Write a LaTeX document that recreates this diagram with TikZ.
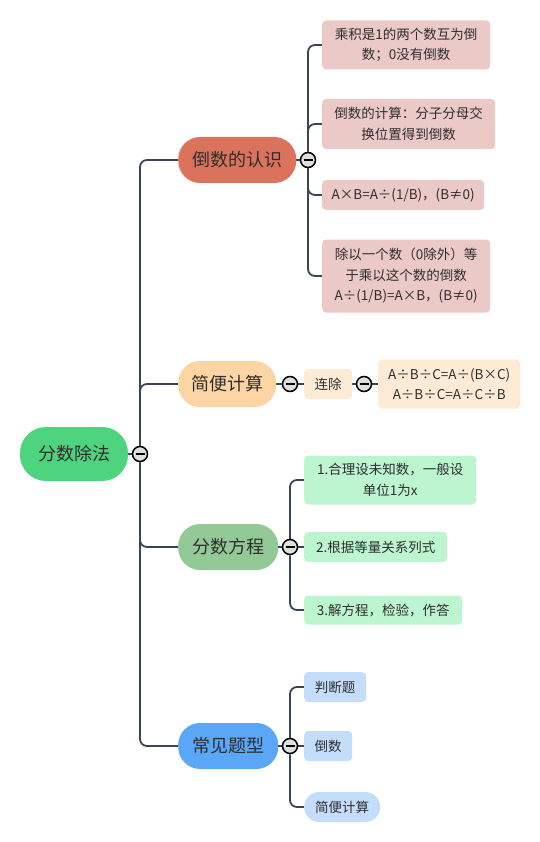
\documentclass[tikz,border=0pt]{standalone}
\usepackage{fontspec}
\setmainfont{Noto Sans CJK SC}
\usetikzlibrary{positioning,backgrounds,calc}
\definecolor{linec}{HTML}{3A4556}
\definecolor{txt}{HTML}{2E2E2E}
\definecolor{rootc}{HTML}{4ED47E}
\definecolor{redc}{HTML}{DB735C}
\definecolor{redl}{HTML}{EBC9C6}
\definecolor{orac}{HTML}{FDD4A3}
\definecolor{oral}{HTML}{FDEBD6}
\definecolor{grnc}{HTML}{93C997}
\definecolor{grnl}{HTML}{BDF5D1}
\definecolor{bluc}{HTML}{5BA7F7}
\definecolor{blul}{HTML}{C3DDFB}
\tikzset{
	root/.style={rectangle,rounded corners=26pt,minimum height=54pt,minimum width=108pt,inner sep=0pt,fill=rootc,text=txt,font=\fontsize{18}{22}\selectfont},
	topic/.style={rectangle,rounded corners=22pt,minimum height=46pt,inner sep=0pt,anchor=west,text=txt,font=\fontsize{18}{22}\selectfont},
	leaf/.style={rectangle,rounded corners=4pt,inner sep=0pt,anchor=west,align=center,text=txt,font=\fontsize{13.5}{20.5}\selectfont},
	fold/.style={circle,draw=black,line width=1.5pt,fill=gray!25,minimum size=15pt,inner sep=0pt,
		path picture={\draw[line width=1.5pt] ([xshift=-4.5pt]path picture bounding box.center) -- ([xshift=4.5pt]path picture bounding box.center);}},
	link/.style={draw=linec,line width=1.8pt,rounded corners=7pt}
}
\begin{document}
\begin{tikzpicture}[x=1pt,y=-1pt]
	\useasboundingbox (0,0) rectangle (539,842);
	% Columns
	\def\bx{178} % topics
	\def\ax{322} % leaves of first topic
	\def\cx{304} % leaves of the other topics
	
	\node[root] (R) at (74,454) {分数除法};
	\node[fold] (R0) at (140,454) {};
	
	% first topic
	\node[topic,fill=redc,minimum width=118pt] (B1) at (\bx,160) {倒数的认识};
	\node[fold] (F1) at (308,160) {};
	\node[leaf,fill=redl,minimum width=168pt,minimum height=49pt] (A1) at (\ax,45) {乘积是1的两个数互为倒\\数；0没有倒数};
	\node[leaf,fill=redl,minimum width=173pt,minimum height=50pt] (A2) at (\ax,124) {倒数的计算：分子分母交\\换位置得到倒数};
	\node[leaf,fill=redl,minimum width=162pt,minimum height=30pt] (A3) at (\ax,195) {A×B=A÷(1/B)，(B≠0)};
	\node[leaf,fill=redl,minimum width=168pt,minimum height=73pt] (A4) at (\ax,276) {除以一个数（0除外）等\\于乘以这个数的倒数\\A÷(1/B)=A×B，(B≠0)};
	
	% second topic
	\node[topic,fill=orac,minimum width=98pt] (B2) at (\bx,384) {简便计算};
	\node[fold] (F2) at (290,384) {};
	\node[leaf,fill=oral,minimum width=48pt,minimum height=30pt] (E1) at (\cx,384) {连除};
	\node[fold] (F5) at (364,384) {};
	\node[leaf,fill=oral,minimum width=142pt,minimum height=49pt] (E2) at (378,384) {A÷B÷C=A÷(B×C)\\A÷B÷C=A÷C÷B};
	
	% third topic
	\node[topic,fill=grnc,minimum width=100pt] (B3) at (\bx,547) {分数方程};
	\node[fold] (F3) at (290,547) {};
	\node[leaf,fill=grnl,minimum width=172pt,minimum height=49pt] (C1) at (\cx,480) {1.合理设未知数，一般设\\单位1为x};
	\node[leaf,fill=grnl,minimum width=143pt,minimum height=30pt] (C2) at (\cx,547) {2.根据等量关系列式};
	\node[leaf,fill=grnl,minimum width=158pt,minimum height=29pt] (C3) at (\cx,610) {3.解方程，检验，作答};
	
	% fourth topic
	\node[topic,fill=bluc,minimum width=100pt] (B4) at (\bx,746) {常见题型};
	\node[fold] (F4) at (290,746) {};
	\node[leaf,fill=blul,minimum width=62pt,minimum height=30pt] (D1) at (\cx,687) {判断题};
	\node[leaf,fill=blul,minimum width=48pt,minimum height=30pt] (D2) at (\cx,746) {倒数};
	\node[leaf,fill=blul,minimum width=76pt,minimum height=30pt,rounded corners=15pt] (D3) at (\cx,807) {简便计算};
	
	\begin{scope}[on background layer]
		\fill[white] (0,0) rectangle (539,842);
		\draw[link] (R) -- (R0);
		\foreach \b in {B1,B2,B3,B4} \draw[link] (R0) |- (\b);
		\draw[link] (B1) -- (F1);
		\foreach \a in {A1,A2,A3,A4} \draw[link] (F1) |- (\a);
		\draw[link] (B2) -- (F2) -- (E1) -- (F5) -- (E2);
		\draw[link] (B3) -- (F3);
		\foreach \c in {C1,C2,C3} \draw[link] (F3) |- (\c);
		\draw[link] (B4) -- (F4);
		\foreach \d in {D1,D2,D3} \draw[link] (F4) |- (\d);
	\end{scope}
\end{tikzpicture}
\end{document}
